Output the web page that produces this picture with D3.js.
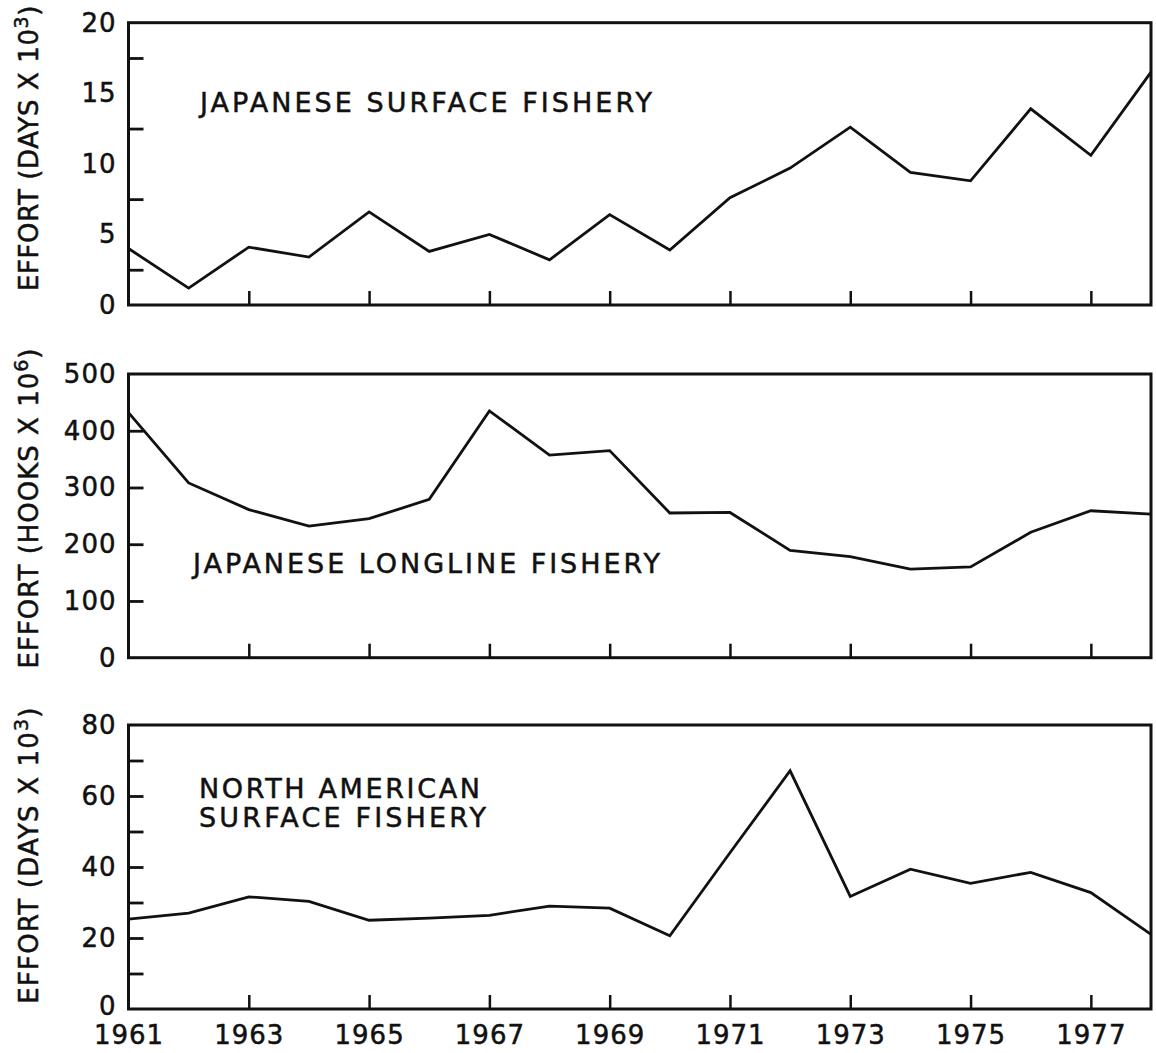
<!DOCTYPE html>
<html><head><meta charset="utf-8">
<script src="https://cdn.jsdelivr.net/npm/d3@7"></script>
<style>
body{margin:0;background:#fff;}
text{font-family:"DejaVu Sans",sans-serif;fill:#111;stroke:#111;stroke-width:0.5px;}
</style></head>
<body><svg id="c" width="1156" height="1053"></svg>
<script>
// ---- data ----
const years = [1961,1962,1963,1964,1965,1966,1967,1968,1969,1970,1971,1972,1973,1974,1975,1976,1977,1978];
const surfaceJapan = [4.0,1.2,4.1,3.4,6.6,3.8,5.0,3.2,6.4,3.9,7.6,9.7,12.6,9.4,8.8,13.9,10.6,16.5];
const longlineJapan = [432,308,261,232,245,279,435,357,365,255,256,189,178,156,160,221,259,253];
const surfaceNorthAmerica = [25.3,27.0,31.6,30.3,25.0,25.6,26.4,29.0,28.4,20.6,44.0,67.1,31.7,39.4,35.4,38.5,32.8,21.0];
const yearTicks = [1961,1963,1965,1967,1969,1971,1973,1975,1977];
const ticks1 = [0,5,10,15,20];
const minor1 = [2.5,7.5,12.5,17.5];
const ticks2 = [0,100,200,300,400,500];
const minor2 = [100,200,300,400];
const ticks3 = [0,20,40,60,80];
const minor3 = [10,20,30,40,50,60,70];
const labels = ["JAPANESE SURFACE FISHERY","JAPANESE LONGLINE FISHERY",["NORTH AMERICAN","SURFACE FISHERY"]];
const yTitles = [["EFFORT (DAYS X 10","3",")"],["EFFORT (HOOKS X 10","6",")"],["EFFORT (DAYS X 10","3",")"]];

const svg = d3.select("#c");
const x = d3.scaleLinear().domain([1961,1978]).range([128.5,1151]);

const panels = [
  {vals:surfaceJapan, dom:[0,20], top:22.7, bot:305, ticks:ticks1, minor:minor1, title:yTitles[0], tcy:148, ls:0.6,
   label:[labels[0]], lx:200, ly:[112], lw:[452], xlab:false},
  {vals:longlineJapan, dom:[0,500], top:374, bot:657.7, ticks:ticks2, minor:minor2, title:yTitles[1], tcy:508, ls:1.0,
   label:[labels[1]], lx:193, ly:[573], lw:[467], xlab:false},
  {vals:surfaceNorthAmerica, dom:[0,80], top:725, bot:1009, ticks:ticks3, minor:minor3, title:yTitles[2], tcy:855, ls:1.2,
   label:labels[2], lx:199, ly:[798,827], lw:[281,287], xlab:true}
];

panels.forEach(p=>{
  const y = d3.scaleLinear().domain(p.dom).range([p.bot,p.top]);
  const g = svg.append("g");
  // frame
  g.append("rect").attr("x",x.range()[0]).attr("y",p.top)
    .attr("width",x.range()[1]-x.range()[0]).attr("height",p.bot-p.top)
    .attr("fill","none").attr("stroke","#111").attr("stroke-width",3);
  // inward ticks (no labels)
  const ax = g.append("g").attr("transform",`translate(${x.range()[0]},0)`)
    .call(d3.axisLeft(y).tickValues(p.minor).tickSize(-15).tickFormat(""));
  ax.select(".domain").remove();
  ax.selectAll("line").attr("stroke","#111").attr("stroke-width",2.8);
  // labels
  const al = g.append("g").attr("transform",`translate(${x.range()[0]},0)`)
    .call(d3.axisLeft(y).tickValues(p.ticks).tickSize(0).tickPadding(12).tickFormat(d3.format("d")));
  al.select(".domain").remove();
  al.selectAll("text").attr("font-size",26).attr("fill","#111").style("font-family","DejaVu Sans").attr("letter-spacing",1);
  if(p.xlab) al.selectAll("text").filter(d=>d===0).attr("dy","0.2em");
  // x ticks
  const xa = g.append("g").attr("transform",`translate(0,${p.bot})`)
    .call(d3.axisBottom(x).tickValues(yearTicks.slice(1)).tickSize(-14).tickFormat(""));
  xa.select(".domain").remove();
  xa.selectAll("line").attr("stroke","#111").attr("stroke-width",2.5);
  if(p.xlab){
    const xl = g.append("g").attr("transform",`translate(0,${p.bot})`)
      .call(d3.axisBottom(x).tickValues(yearTicks).tickSize(0).tickPadding(17).tickFormat(d3.format("d")));
    xl.select(".domain").remove();
    xl.selectAll("text").attr("font-size",26).attr("fill","#111").style("font-family","DejaVu Sans").attr("letter-spacing",1);
  }
  // line
  const line = d3.line().x((d,i)=>x(years[i])).y(d=>y(d));
  g.append("path").datum(p.vals).attr("d",line).attr("fill","none")
    .attr("stroke","#111").attr("stroke-width",2.8).attr("stroke-linejoin","miter");
  // label
  p.label.forEach((t,i)=>{
    g.append("text").attr("x",p.lx).attr("y",p.ly[i]).attr("font-size",27)
      .attr("textLength",p.lw[i]).attr("lengthAdjust","spacing").text(t);
  });
  // y title
  const tt = g.append("text").attr("transform",`translate(38,${p.tcy}) rotate(-90)`)
    .attr("text-anchor","middle").attr("font-size",26).attr("letter-spacing",p.ls);
  tt.append("tspan").text(p.title[0]);
  tt.append("tspan").attr("dy",-10).attr("font-size",19).text(p.title[1]);
  tt.append("tspan").attr("dy",10).text(p.title[2]);
});
</script></body></html>
